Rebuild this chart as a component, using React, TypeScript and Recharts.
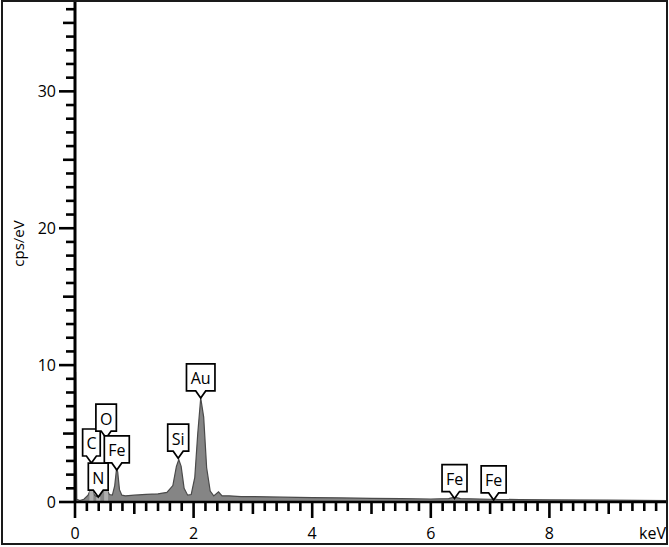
import React from "react";
import {
  ComposedChart,
  Area,
  XAxis,
  YAxis,
  ReferenceDot,
  ReferenceLine,
} from "recharts";

// Spectrum (keV, cps/eV)
const energyKeV = [
  0, 0.01, 0.03, 0.08, 0.15, 0.22, 0.26, 0.29, 0.33, 0.38, 0.42, 0.47, 0.51,
  0.54, 0.58, 0.63, 0.67, 0.7, 0.72, 0.75, 0.79, 0.85, 1.0, 1.2, 1.4, 1.55,
  1.65, 1.71, 1.75, 1.79, 1.84, 1.9, 1.96, 2.02, 2.07, 2.12, 2.17, 2.22, 2.28,
  2.34, 2.42, 2.48, 2.6, 2.8, 3.0, 3.5, 4.0, 4.5, 5.0, 5.5, 6.0, 6.3, 6.4,
  6.5, 7.0, 7.06, 7.12, 7.5, 8.0, 9.0, 10.0,
];
const cpsPerEV = [
  0, 9.5, 0.2, 0.1, 0.2, 0.5, 0.9, 0.9, 0.5, 0.35, 0.45, 0.8, 1.0, 0.9, 0.55,
  0.5, 1.2, 2.4, 2.2, 0.9, 0.5, 0.45, 0.5, 0.55, 0.6, 0.7, 1.2, 2.6, 3.1, 2.6,
  1.0, 0.5, 0.55, 1.8, 5.0, 7.6, 6.2, 2.5, 0.8, 0.45, 0.75, 0.45, 0.45, 0.4,
  0.4, 0.35, 0.32, 0.3, 0.27, 0.25, 0.22, 0.25, 0.35, 0.25, 0.2, 0.22, 0.19,
  0.18, 0.16, 0.13, 0.1,
];

// Element labels
const labelNames = ["C", "N", "O", "Fe", "Si", "Au", "Fe", "Fe"];
const labelEnergies = [0.277, 0.392, 0.525, 0.705, 1.74, 2.12, 6.4, 7.06];
const labelTips = [2.85, 0.36, 4.67, 2.34, 3.2, 7.6, 0.25, 0.15];
// marker bands shown under the light-element labels
const markerNames = ["C", "N", "O"];
const markerEnergies = [0.277, 0.392, 0.525];
const markerTops = [2.85, 0.36, 4.67];

const xMajorLabels = [0, 2, 4, 6, 8];
const yMajorLabels = [0, 10, 20, 30];

const xTicks = Array.from({ length: 50 }, (_, i) => Math.round(i * 2) / 10);
const yTicks = Array.from({ length: 37 }, (_, i) => i);

const data = energyKeV.map((e, i) => ({ e, v: cpsPerEV[i] }));
const labels = labelNames.map((name, i) => ({
  name,
  e: labelEnergies[i],
  tip: labelTips[i],
}));
const markers = markerNames.map((name, i) => ({
  name,
  e: markerEnergies[i],
  top: markerTops[i],
}));

const FONT = "'Open Sans', 'DejaVu Sans', sans-serif";

const charW: Record<string, number> = {
  C: 0.6, O: 0.78, N: 0.74, F: 0.5, e: 0.56, S: 0.55, i: 0.26, A: 0.68, u: 0.6,
};

const XTick = (props: any) => {
  const { x, y, payload } = props;
  const v = payload.value as number;
  const isInt = Math.abs(v - Math.round(v)) < 1e-6;
  const isMajor = isInt && xMajorLabels.includes(Math.round(v));
  const len = isMajor ? 16 : isInt ? 12 : 9;
  return (
    <g>
      <line x1={x} x2={x} y1={y} y2={y + len} stroke="#000" strokeWidth={2.6} />
      {isMajor && (
        <text
          x={x}
          y={y + 31}
          textAnchor="middle"
          dominantBaseline="central"
          fontSize={16}
          fontFamily={FONT}
          fill="#000"
        >
          {Math.round(v)}
        </text>
      )}
    </g>
  );
};

const YTick = (props: any) => {
  const { x, y, payload } = props;
  const v = payload.value as number;
  const isMajor = yMajorLabels.includes(v);
  const isMid = v % 5 === 0;
  const len = isMajor ? 16 : isMid ? 12 : 9;
  return (
    <g>
      <line x1={x - len} x2={x} y1={y} y2={y} stroke="#000" strokeWidth={2.6} />
      {isMajor && (
        <text
          x={x - 19}
          y={y}
          textAnchor="end"
          dominantBaseline="central"
          fontSize={16}
          fontFamily={FONT}
          fill="#000"
        >
          {v}
        </text>
      )}
    </g>
  );
};

const makeLabelShape = (name: string) => (props: any) => {
  const { cx, cy } = props;
  const w = name.split("").reduce((s, c) => s + (charW[c] || 0.6) * 16, 0) + 8;
  const h = 27;
  const ptr = 7;
  const bottom = cy - ptr;
  const top = bottom - h;
  const left = cx - w / 2;
  const right = cx + w / 2;
  const d = `M${left},${top} L${right},${top} L${right},${bottom} L${cx + 5},${bottom} L${cx},${cy} L${cx - 5},${bottom} L${left},${bottom} Z`;
  return (
    <g>
      <path d={d} fill="#fff" stroke="#000" strokeWidth={1.7} strokeLinejoin="miter" />
      <text
        x={cx}
        y={top + h / 2 + 1}
        textAnchor="middle"
        dominantBaseline="central"
        fontSize={16}
        fontFamily={FONT}
        fill="#000"
      >
        {name}
      </text>
    </g>
  );
};

const YLabel = (props: any) => {
  const vb = props.viewBox || {};
  const x = (vb.x || 0) + 18;
  const y = (vb.y || 0) + (vb.height || 0) / 2 - 8;
  return (
    <text
      x={x}
      y={y}
      transform={`rotate(-90, ${x}, ${y})`}
      textAnchor="middle"
      dominantBaseline="central"
      fontSize={15}
      fontFamily={FONT}
      fill="#000"
    >
      cps/eV
    </text>
  );
};

const XLabel = (props: any) => {
  const vb = props.viewBox || {};
  const x = (vb.x || 0) + (vb.width || 0) - 2;
  const y = (vb.y || 0) + 31;
  return (
    <text
      x={x}
      y={y}
      textAnchor="end"
      dominantBaseline="central"
      fontSize={16}
      fontFamily={FONT}
      fill="#000"
    >
      keV
    </text>
  );
};

export default function App() {
  return (
    <div
      style={{
        position: "fixed",
        left: 0,
        top: 0,
        width: 669,
        height: 547,
        background: "#fff",
      }}
    >
      <ComposedChart
        width={669}
        height={547}
        data={data}
        margin={{ top: 1, right: 1, bottom: 0, left: 0 }}
      >
        <XAxis
          dataKey="e"
          type="number"
          domain={[0, 10]}
          allowDataOverflow
          ticks={xTicks}
          interval={0}
          tickSize={0}
          tickMargin={0}
          tick={<XTick />}
          height={45}
          axisLine={{ stroke: "#000", strokeWidth: 2.6 }}
          label={<XLabel />}
        />
        <YAxis
          type="number"
          domain={[0, 36.6]}
          allowDataOverflow
          ticks={yTicks}
          interval={0}
          tickSize={0}
          tickMargin={0}
          tick={<YTick />}
          width={75}
          axisLine={{ stroke: "#000", strokeWidth: 3 }}
          label={<YLabel />}
        />
        <Area
          type="linear"
          dataKey="v"
          stroke="#4a4a4a"
          strokeWidth={1.2}
          fill="#858585"
          fillOpacity={1}
          isAnimationActive={false}
          dot={false}
          activeDot={false}
        />
        {markers.map((m, i) => (
          <ReferenceLine
            key={"m" + i}
            segment={[
              { x: m.e, y: 0 },
              { x: m.e, y: m.top },
            ]}
            stroke="#b0b0b0"
            strokeWidth={4}
            ifOverflow="visible"
          />
        ))}
        {labels.map((l, i) => (
          <ReferenceDot
            key={"l" + i}
            x={l.e}
            y={l.tip}
            r={1}
            ifOverflow="visible"
            shape={makeLabelShape(l.name)}
          />
        ))}
      </ComposedChart>
      <div
        style={{
          position: "absolute",
          left: 1,
          top: 0,
          width: 667,
          height: 545,
          border: "2px solid #1a1a1a",
          boxSizing: "border-box",
          pointerEvents: "none",
        }}
      />
    </div>
  );
}
